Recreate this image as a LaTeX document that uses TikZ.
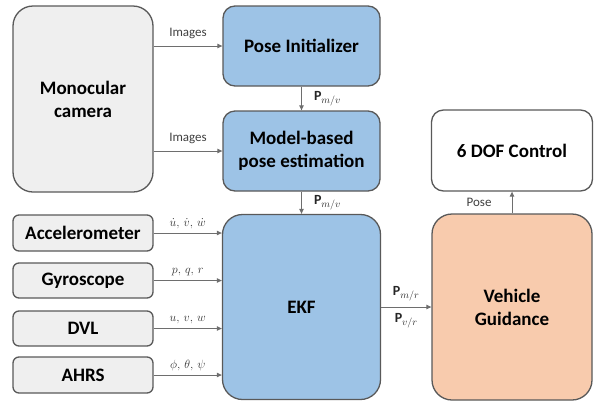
\documentclass[tikz,border=0pt]{standalone}
\usepackage{fontspec}
\setmainfont{Carlito}
\usetikzlibrary{arrows.meta}
\definecolor{boxgray}{HTML}{EFEFEF}
\definecolor{boxblue}{HTML}{9DC3E6}
\definecolor{boxorange}{HTML}{F8CBAD}
\definecolor{edgegray}{HTML}{595959}
\definecolor{wiregray}{HTML}{6E6E6E}
\tikzset{
  block/.style={draw=edgegray, line width=1.3pt, rounded corners=#1, align=center,
    inner sep=0pt, font=\bfseries\fontsize{19}{23}\selectfont},
  block/.default=8pt,
  wire/.style={draw=wiregray, line width=1pt, -{Triangle[length=5pt,width=4.5pt]}},
  lbl/.style={text=black!75, font=\fontsize{13}{15}\selectfont, inner sep=4pt},
  mlbl/.style={text=black!80, font=\fontsize{12.5}{15}\selectfont, inner sep=4pt},
  plbl/.style={text=black!85, font=\fontsize{14}{16}\selectfont, inner sep=4pt}
}
\begin{document}
\begin{tikzpicture}[x=1pt,y=-1pt]
\useasboundingbox (0,0) rectangle (597,405);
% blocks
\node[block=20pt, fill=boxgray, minimum width=140pt, minimum height=186pt] (cam) at (83,99) {Monocular\\camera};
\node[block=12pt, fill=boxblue, minimum width=157pt, minimum height=80pt] (init) at (301.5,46) {Pose Initializer};
\node[block=12pt, fill=boxblue, minimum width=157pt, minimum height=80pt] (mbpe) at (301.5,151) {Model-based\\pose estimation};
\node[block=20pt, fill=boxblue, minimum width=158pt, minimum height=185pt] (ekf) at (301.5,307) {EKF};
\node[block=12pt, fill=white, minimum width=161pt, minimum height=81pt] (ctrl) at (512,150.5) {6 DOF Control};
\node[block=20pt, fill=boxorange, minimum width=160pt, minimum height=186pt] (guid) at (512,307) {Vehicle\\Guidance};
\node[block=6pt, fill=boxgray, minimum width=140pt, minimum height=36pt] (acc) at (83,233) {Accelerometer};
\node[block=6pt, fill=boxgray, minimum width=140pt, minimum height=35pt] (gyro) at (83,280.5) {Gyroscope};
\node[block=6pt, fill=boxgray, minimum width=140pt, minimum height=35pt] (dvl) at (83,328.5) {DVL};
\node[block=6pt, fill=boxgray, minimum width=140pt, minimum height=36pt] (ahrs) at (83,375) {AHRS};
% camera to vision blocks
\draw[wire] (cam.east |- init.west) -- node[lbl, above=3pt] {Images} (init.west);
\draw[wire] (cam.east |- mbpe.west) -- node[lbl, above=3pt] {Images} (mbpe.west);
\draw[wire] (init.south) -- node[plbl, right=8pt] {$\mathbf{P}_{m/v}$} (mbpe.north);
\draw[wire] (mbpe.south) -- node[plbl, right=8pt] {$\mathbf{P}_{m/v}$} (ekf.north);
% sensors to EKF
\draw[wire] (acc.east) -- node[mlbl, above] {$\dot{u},\, \dot{v},\, \dot{w}$} (acc.east -| ekf.west);
\draw[wire] (gyro.east) -- node[mlbl, above] {$p,\, q,\, r$} (gyro.east -| ekf.west);
\draw[wire] (dvl.east) -- node[mlbl, above] {$u,\, v,\, w$} (dvl.east -| ekf.west);
\draw[wire] (ahrs.east) -- node[mlbl, above] {$\phi,\, \theta,\, \psi$} (ahrs.east -| ekf.west);
% EKF to guidance to control
\draw[wire] (ekf.east) -- node[plbl, above=2pt] {$\mathbf{P}_{m/r}$} node[plbl, below=2pt] {$\mathbf{P}_{v/r}$} (guid.west);
\draw[wire] (guid.north) -- node[lbl, left=16pt] {Pose} (ctrl.south);
\end{tikzpicture}
\end{document}
